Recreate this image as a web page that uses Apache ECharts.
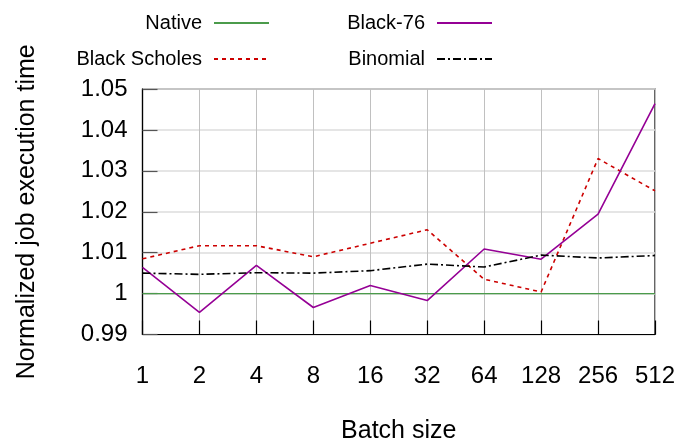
<!DOCTYPE html>
<html><head><meta charset="utf-8">
<script src="https://cdn.jsdelivr.net/npm/echarts@6/dist/echarts.min.js"></script>
<style>html,body{margin:0;padding:0;background:#fff}#c{width:678px;height:443px}</style>
</head><body><div id="c"></div>
<script>
const categories = ['1','2','4','8','16','32','64','128','256','512'];
const native = [1,1,1,1,1,1,1,1,1,1];
const black76 = [1.0064,0.9954,1.0069,0.9966,1.0020,0.9983,1.0109,1.0084,1.0194,1.0464];
const blackScholes = [1.0085,1.0117,1.0117,1.0090,1.0123,1.0156,1.0035,1.0004,1.0330,1.0251];
const binomial = [1.0050,1.0047,1.0051,1.0050,1.0056,1.0072,1.0065,1.0094,1.0087,1.0093];

const FONT = 'Liberation Sans, Arial, sans-serif';
const chart = echarts.init(document.getElementById('c'));

function mkLegend(name, right, top) {
  return {
    data: [name], right: right, top: top, align: 'right', orient: 'horizontal',
    itemWidth: 55, itemHeight: 12, itemGap: 0, padding: 0,
    itemStyle: {opacity: 0},
    textStyle: {fontFamily: FONT, fontSize: 20, color: '#000', padding: [0, 7, 0, 0]}
  };
}

const series = [
  {name: 'Native', data: native, color: '#4b9b4b', lineStyle: {width: 1.3, type: 'solid'}},
  {name: 'Black Scholes', data: blackScholes, color: '#cc0000', lineStyle: {width: 1.6, type: [4, 4]}},
  {name: 'Black-76', data: black76, color: '#950095', lineStyle: {width: 1.6, type: 'solid'}},
  {name: 'Binomial', data: binomial, color: '#000000', lineStyle: {width: 1.6, type: [8, 3, 2, 3]}}
].map(s => Object.assign({type: 'line', symbol: 'none', showSymbol: false, animation: false}, s));

chart.setOption({
  animation: false,
  legend: [
    mkLegend('Native', 408, 13),
    mkLegend('Black Scholes', 408, 49),
    mkLegend('Black-76', 185, 13),
    mkLegend('Binomial', 185, 49)
  ],
  grid: {left: 142.5, right: 23, top: 89, bottom: 108.5, containLabel: false, outerBoundsMode: 'none',
    show: true, borderColor: '#000', borderWidth: 1.2, backgroundColor: 'transparent'},
  xAxis: {
    type: 'category', data: categories, boundaryGap: false,
    name: 'Batch size', nameLocation: 'middle', nameGap: 84,
    nameTextStyle: {fontFamily: FONT, fontSize: 25, color: '#000'},
    axisLine: {show: true, lineStyle: {color: '#000', width: 1.2}},
    axisTick: {show: true, inside: true, length: 14, alignWithLabel: true, lineStyle: {color: '#000', width: 1.2}},
    axisLabel: {fontFamily: FONT, fontSize: 24, color: '#000', margin: 30, interval: 0},
    splitLine: {show: true, lineStyle: {color: '#c0c0c0', width: 1}}
  },
  yAxis: {
    type: 'value', min: 0.99, max: 1.05, interval: 0.01,
    name: 'Normalized job execution time', nameLocation: 'middle', nameGap: 103,
    nameTextStyle: {fontFamily: FONT, fontSize: 25, color: '#000'},
    axisLine: {show: true, lineStyle: {color: '#000', width: 1.2}},
    axisTick: {show: true, inside: true, length: 15, lineStyle: {color: '#555', width: 1.2}},
    axisLabel: {fontFamily: FONT, fontSize: 24, color: '#000', margin: 15,
      formatter: v => String(parseFloat(Number(v).toFixed(2)))},
    splitLine: {show: true, lineStyle: {color: '#dcdcdc', width: 1.5}}
  },
  series: series
});
</script></body></html>
